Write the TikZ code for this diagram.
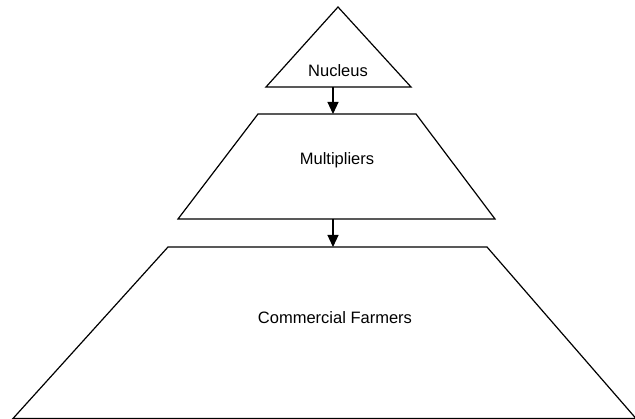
\documentclass[tikz,border=0pt]{standalone}
\usepackage{fontspec}
\setmainfont{Liberation Sans}
\usetikzlibrary{arrows.meta}

\begin{document}
\begin{tikzpicture}[x=1pt,y=-1pt]
\tikzstyle{level} = [draw=black, line width=1.2pt, line join=miter]
\tikzstyle{label} = [font=\fontsize{16.5}{19}\selectfont, inner sep=0pt]
\tikzstyle{line} = [draw, line width=1.2pt, -{Triangle[length=12pt,width=11pt]}];
\useasboundingbox (0,0) rectangle (635,419);
% nucleus
\draw[level] (266,87) -- (338,7) -- (411,87) -- cycle;
\node[label] (nucleus) at (338,71) {Nucleus};
% multipliers
\draw[level] (178,219) -- (258,114) -- (416,114) -- (495,219) -- cycle;
\node[label] (multipliers) at (337,160) {Multipliers};
% commercial farmers
\draw[level] (13,418.5) -- (168,247) -- (487,247) -- (636,418.5) -- cycle;
\node[label] (farmers) at (335,318) {Commercial Farmers};
\coordinate (nucleusbase) at (333,87);
\coordinate (multtop) at (333,114);
\coordinate (multbase) at (333,219);
\coordinate (farmtop) at (333,247);
\path[line] (nucleusbase) -- (multtop);
\path[line] (multbase) -- (farmtop);
\end{tikzpicture}
\end{document}
